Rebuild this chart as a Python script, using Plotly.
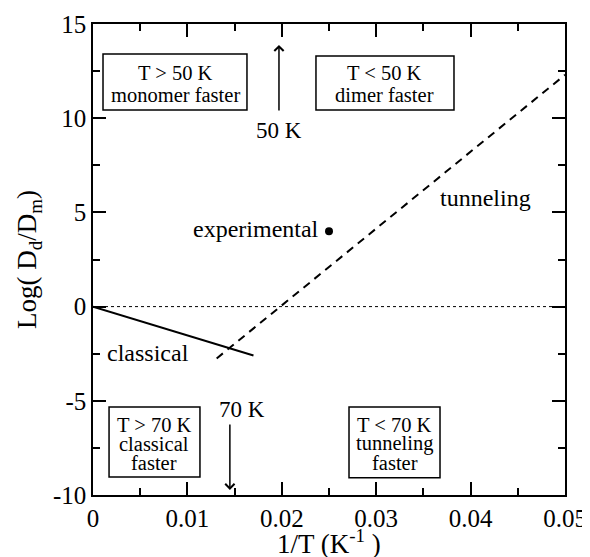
import plotly.graph_objects as go

# ---- data ----
classical_x = [0.0, 0.017]
classical_y = [0.0, -2.6]
tunneling_x = [0.0131, 0.05]
tunneling_y = [-2.75, 12.3]
zero_x = [0.0, 0.05]
zero_y = [0.0, 0.0]
exp_x = [0.025]
exp_y = [4.0]

x_tickvals = [0, 0.01, 0.02, 0.03, 0.04, 0.05]
x_ticktext = ["0", "0.01", "0.02", "0.03", "0.04", "0.05"]
y_tickvals = [-10, -5, 0, 5, 10, 15]
y_ticktext = ["-10", "-5", "0", "5", "10", "15"]

FONT = "Liberation Serif"

fig = go.Figure()
fig.add_trace(go.Scatter(x=zero_x, y=zero_y, mode="lines",
                         line=dict(color="black", width=1, dash="dot"), showlegend=False))
fig.add_trace(go.Scatter(x=classical_x, y=classical_y, mode="lines",
                         line=dict(color="black", width=2), showlegend=False))
fig.add_trace(go.Scatter(x=tunneling_x, y=tunneling_y, mode="lines",
                         line=dict(color="black", width=2, dash="8px,6px"), showlegend=False))
fig.add_trace(go.Scatter(x=exp_x, y=exp_y, mode="markers",
                         marker=dict(color="black", size=8), showlegend=False))

ann = []
def txt(x, y, s, size=24, xanchor="center"):
    ann.append(dict(x=x, y=y, xref="x", yref="y", text=s, showarrow=False,
                    xanchor=xanchor, yanchor="middle",
                    font=dict(family=FONT, size=size, color="black")))

txt(0.0242, 4.12, "experimental", xanchor="right")
txt(0.0416, 5.76, "tunneling")
txt(0.0058, -2.46, "classical")
txt(0.0197, 9.37, "50 K", size=23)
txt(0.0158, -5.44, "70 K", size=23)

# boxes
boxes = [
    (0.00106, 0.01631, 10.44, 13.41, 0.00869, [("T > 50 K", 12.40), ("monomer faster", 11.23)]),
    (0.02362, 0.03824, 10.44, 13.30, 0.03093, [("T < 50 K", 12.40), ("dimer faster", 11.23)]),
    (0.0017, 0.01133, -9.04, -5.33, 0.00651, [("T > 70 K", -6.28), ("classical", -7.29), ("faster", -8.30)]),
    (0.02712, 0.03676, -9.09, -5.33, 0.03194, [("T < 70 K", -6.28), ("tunneling", -7.29), ("faster", -8.30)]),
]
shapes = []
for x0, x1, y0, y1, xc, lines in boxes:
    shapes.append(dict(type="rect", xref="x", yref="y", x0=x0, x1=x1, y0=y0, y1=y1,
                       line=dict(color="black", width=1.5)))
    for s, yy in lines:
        txt(xc, yy, s, size=20.5)

# arrows
ann.append(dict(x=0.0197, y=13.89, ax=0.0197, ay=10.33, xref="x", yref="y", axref="x", ayref="y",
                showarrow=True, arrowhead=4, arrowsize=1.2, arrowwidth=1.5, arrowcolor="black", text=""))
ann.append(dict(x=0.0145, y=-9.73, ax=0.0145, ay=-6.18, xref="x", yref="y", axref="x", ayref="y",
                showarrow=True, arrowhead=4, arrowsize=1.2, arrowwidth=1.5, arrowcolor="black", text=""))

# x-axis title as annotation below tick labels
ann.append(dict(x=0.5, y=-0.100, xref="paper", yref="paper", showarrow=False,
                xanchor="center", yanchor="middle",
                text="1/T (K<sup>-1</sup>&nbsp;)", font=dict(family=FONT, size=27, color="black")))

axis_common = dict(showline=True, linecolor="black", linewidth=1.5, mirror="ticks",
                   ticks="inside", ticklen=13, tickwidth=1.5, tickcolor="black",
                   showgrid=False, zeroline=False, automargin=False,
                   tickfont=dict(family=FONT, size=25, color="black"))

fig.update_layout(
    width=582, height=549,
    margin=dict(l=85, r=25, t=16, b=62),
    plot_bgcolor="white", paper_bgcolor="white",
    annotations=ann, shapes=shapes,
    xaxis=dict(range=[0, 0.05], tickvals=x_tickvals, ticktext=x_ticktext,
               minor=dict(ticks="inside", ticklen=7, tickwidth=1.5, tickcolor="black", dtick=0.005, tick0=0),
               **axis_common),
    yaxis=dict(range=[-10, 15], tickvals=y_tickvals, ticktext=y_ticktext,
               minor=dict(ticks="inside", ticklen=7, tickwidth=1.5, tickcolor="black", dtick=2.5, tick0=0),
               title=dict(text="Log(&nbsp;D<sub>d</sub>/D<sub>m</sub>)", font=dict(family=FONT, size=27, color="black"), standoff=8),
               **axis_common),
)

fig.write_html("out.html")
